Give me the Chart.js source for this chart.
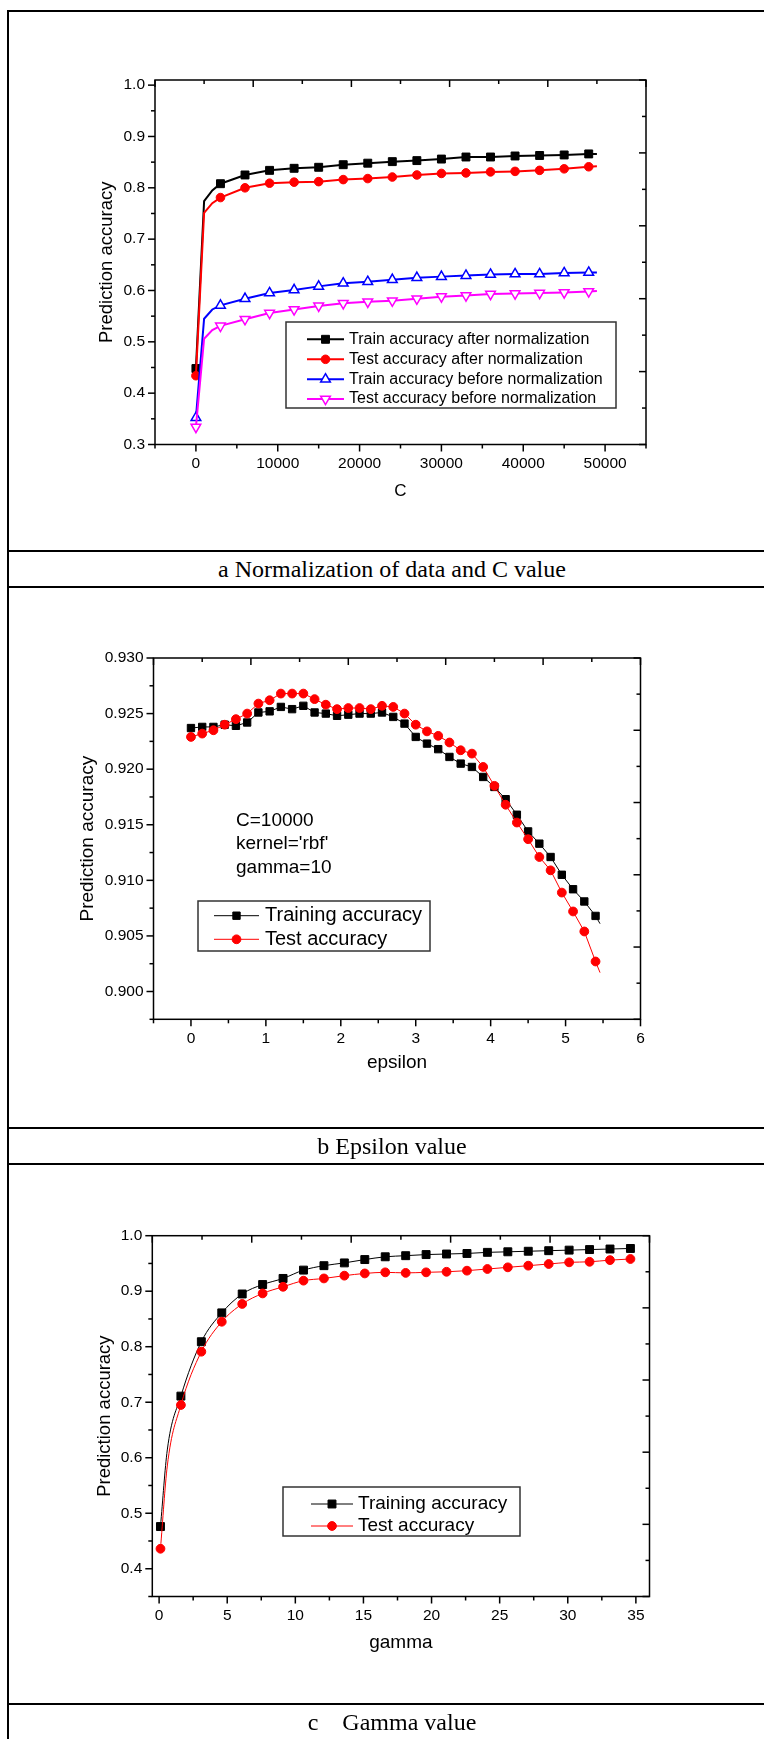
<!DOCTYPE html>
<html>
<head>
<meta charset="utf-8">
<title>SVR parameter selection</title>
<script src="https://cdn.jsdelivr.net/npm/chart.js@4.4.1/dist/chart.umd.min.js"></script>
<style>
  html, body { margin: 0; padding: 0; background: #fff; }
  body { position: relative; width: 764px; height: 1739px; overflow: hidden; }
  .rule { position: absolute; left: 7px; width: 800px; height: 2px; background: #000; }
  .side { position: absolute; left: 7px; top: 10px; width: 2px; height: 1800px; background: #000; }
  .caption { position: absolute; left: 8px; width: 768px; height: 36px; line-height: 36px; text-align: center;
             font-family: "Liberation Serif", "Times New Roman", serif; font-size: 24px; white-space: pre; color: #000; }
  canvas { position: absolute; left: 0; }
</style>
</head>
<body>
<div class="side"></div>
<div class="rule" style="top:10px"></div>
<canvas id="chartC" width="764" height="550" style="top:0"></canvas>
<div class="rule" style="top:550px"></div>
<div class="caption" style="top:551px">a Normalization of data and C value</div>
<div class="rule" style="top:586px"></div>
<canvas id="chartEps" width="764" height="540" style="top:588px"></canvas>
<div class="rule" style="top:1127px"></div>
<div class="caption" style="top:1128px">b Epsilon value</div>
<div class="rule" style="top:1163px"></div>
<canvas id="chartGamma" width="764" height="539" style="top:1165px"></canvas>
<div class="rule" style="top:1703px"></div>
<div class="caption" style="top:1704px">c    Gamma value</div>

<script>
const FONT = '"Liberation Sans", Arial, Helvetica, sans-serif';

// (a) Normalization of data and C value
const cValues = [0, 1000, 2000, 3000, 6000, 9000, 12000, 15000, 18000, 21000, 24000, 27000, 30000, 33000, 36000, 39000, 42000, 45000, 48000, 49000];
const trainAfterNorm = [0.448, 0.774, 0.795, 0.808, 0.825, 0.834, 0.838, 0.840, 0.845, 0.848, 0.851, 0.853, 0.856, 0.860, 0.860, 0.862, 0.863, 0.864, 0.866, 0.866];
const testAfterNorm = [0.434, 0.751, 0.770, 0.781, 0.800, 0.809, 0.811, 0.812, 0.816, 0.818, 0.821, 0.825, 0.828, 0.829, 0.831, 0.832, 0.834, 0.837, 0.841, 0.842];
const trainBeforeNorm = [0.352, 0.545, 0.563, 0.571, 0.584, 0.595, 0.601, 0.608, 0.614, 0.617, 0.621, 0.625, 0.627, 0.629, 0.631, 0.632, 0.632, 0.634, 0.635, 0.635];
const testBeforeNorm = [0.334, 0.506, 0.523, 0.531, 0.544, 0.556, 0.563, 0.570, 0.575, 0.578, 0.580, 0.584, 0.588, 0.590, 0.593, 0.594, 0.595, 0.596, 0.598, 0.599];
const cTicks = [0, 10000, 20000, 30000, 40000, 50000];
const accTicksA = [0.3, 0.4, 0.5, 0.6, 0.7, 0.8, 0.9, 1.0];

// (b) Epsilon value
const epsilonValues = [0, 0.15, 0.30, 0.45, 0.60, 0.75, 0.90, 1.05, 1.20, 1.35, 1.50, 1.65, 1.80, 1.95, 2.10, 2.25, 2.40, 2.55, 2.70,
    2.85, 3.00, 3.15, 3.30, 3.45, 3.60, 3.75, 3.90, 4.05, 4.20, 4.35, 4.50, 4.65, 4.80, 4.95, 5.10, 5.25, 5.40, 5.46];
const trainEps = [0.9237, 0.9238, 0.9238, 0.9240, 0.9239, 0.9242, 0.9251, 0.9252, 0.9256, 0.9254,
    0.9257, 0.9251, 0.9250, 0.9248, 0.9249, 0.9250, 0.9250, 0.9251, 0.9247, 0.9241,
    0.9229, 0.9223, 0.9218, 0.9211, 0.9205, 0.9202, 0.9193, 0.9184, 0.9173, 0.9159,
    0.9144, 0.9133, 0.9121, 0.9105, 0.9092, 0.9081, 0.9068, 0.9061];
const testEps = [0.9229, 0.9232, 0.9235, 0.9240, 0.9245, 0.9250, 0.9259, 0.9262, 0.9268, 0.9268,
    0.9268, 0.9263, 0.9258, 0.9254, 0.9255, 0.9255, 0.9254, 0.9257, 0.9256, 0.9250,
    0.9240, 0.9234, 0.9230, 0.9224, 0.9217, 0.9214, 0.9202, 0.9185, 0.9168, 0.9152,
    0.9137, 0.9121, 0.9109, 0.9089, 0.9072, 0.9054, 0.9027, 0.9017];
const epsTicks = [0, 1, 2, 3, 4, 5, 6];
const accTicksB = [0.900, 0.905, 0.910, 0.915, 0.920, 0.925, 0.930];

// (c) Gamma value
const gammaValues = [0.1, 0.6, 1.6, 3.1, 4.6, 6.1, 7.6, 9.1, 10.6, 12.1, 13.6, 15.1, 16.6, 18.1, 19.6, 21.1, 22.6, 24.1, 25.6, 27.1, 28.6, 30.1, 31.6, 33.1, 34.6];
const trainGamma = [0.476, 0.614, 0.711, 0.809, 0.861, 0.895, 0.912, 0.923, 0.938, 0.946, 0.951, 0.957, 0.962, 0.964, 0.966, 0.967, 0.968, 0.970, 0.971, 0.972, 0.973, 0.974, 0.975, 0.976, 0.977];
const testGamma = [0.436, 0.585, 0.695, 0.791, 0.845, 0.877, 0.896, 0.908, 0.919, 0.923, 0.928, 0.932, 0.934, 0.933, 0.934, 0.935, 0.937, 0.940, 0.943, 0.946, 0.949, 0.952, 0.953, 0.956, 0.958];
const gammaTicks = [0, 5, 10, 15, 20, 25, 30, 35];
const accTicksC = [0.4, 0.5, 0.6, 0.7, 0.8, 0.9, 1.0];

// Origin-style tick marks: major every step, minor halfway
function tickMarks(ctx, a, scale, step, side) {
    const half = step / 2;
    const first = Math.ceil(scale.min / half - 1e-6);
    const last = Math.floor(scale.max / half + 1e-6);
    for (let k = first; k <= last; k++) {
        const len = k % 2 === 0 ? 7 : 4;
        const p = scale.getPixelForValue(k * half);
        ctx.beginPath();
        if (side === 'bottom') { ctx.moveTo(p, a.bottom); ctx.lineTo(p, a.bottom + len); }
        else if (side === 'left') { ctx.moveTo(a.left, p); ctx.lineTo(a.left - len, p); }
        else if (side === 'top') { ctx.moveTo(p, a.top); ctx.lineTo(p, a.top + len); }
        else { ctx.moveTo(a.right, p); ctx.lineTo(a.right - len, p); }
        ctx.stroke();
    }
}

// Frame, ticks, boxed legend and text notes
const originPlugin = {
    id: 'origin',
    afterDraw(chart, args, opts) {
        const ctx = chart.ctx;
        const a = chart.chartArea;
        const s = chart.scales;
        ctx.save();
        ctx.strokeStyle = '#000';
        ctx.lineWidth = opts.lineWidth;
        ctx.strokeRect(a.left, a.top, a.right - a.left, a.bottom - a.top);
        tickMarks(ctx, a, s.x, opts.steps.x, 'bottom');
        tickMarks(ctx, a, s.y, opts.steps.y, 'left');
        tickMarks(ctx, a, s.x2, 2, 'top');
        tickMarks(ctx, a, s.y2, 2, 'right');

        const lg = opts.legend;
        ctx.lineWidth = 1.5;
        ctx.strokeStyle = '#333';
        ctx.strokeRect(lg.box[0], lg.box[1], lg.box[2], lg.box[3]);
        ctx.font = lg.size + 'px ' + FONT;
        ctx.textBaseline = 'middle';
        ctx.textAlign = 'left';
        chart.data.datasets.forEach((ds, i) => {
            const y = lg.rows[i];
            ctx.strokeStyle = ds.borderColor;
            ctx.lineWidth = ds.borderWidth;
            ctx.beginPath();
            ctx.moveTo(lg.line[0], y);
            ctx.lineTo(lg.line[1], y);
            ctx.stroke();
            ctx.fillStyle = ds.pointBackgroundColor;
            ctx.strokeStyle = ds.pointBorderColor;
            ctx.lineWidth = ds.pointBorderWidth;
            Chart.helpers.drawPoint(ctx, {
                pointStyle: ds.pointStyle,
                rotation: ds.pointRotation,
                radius: ds.markerSize,
                borderWidth: ds.pointBorderWidth
            }, (lg.line[0] + lg.line[1]) / 2, y);
            ctx.fillStyle = '#000';
            ctx.fillText(ds.label, lg.textX, y);
        });

        if (opts.notes) {
            const n = opts.notes;
            ctx.font = n.size + 'px ' + FONT;
            ctx.fillStyle = '#000';
            n.lines.forEach((t, i) => ctx.fillText(t, n.x, n.rows[i]));
        }
        ctx.restore();
    }
};

function series(label, xs, ys, hasMarker, look) {
    return {
        label: label,
        data: xs.map((x, i) => ({x: x, y: ys[i]})),
        xAxisID: 'x',
        yAxisID: 'y',
        borderColor: look.color,
        borderWidth: look.lineWidth,
        pointStyle: look.marker,
        pointRotation: look.rotation || 0,
        markerSize: look.size,
        pointRadius: ctx => (ctx.raw && !hasMarker(ctx.raw.x)) ? 0 : look.size,
        pointBackgroundColor: look.fill,
        pointBorderColor: look.color,
        pointBorderWidth: look.markerBorder,
        cubicInterpolationMode: look.smooth ? 'monotone' : 'default',
        order: look.order
    };
}

function makeChart(id, setup) {
    return new Chart(document.getElementById(id), {
        type: 'line',
        data: {datasets: setup.datasets},
        options: {
            responsive: false,
            animation: false,
            devicePixelRatio: 1,
            events: [],
            layout: {padding: setup.padding},
            elements: {line: {tension: 0}},
            scales: {
                x: {
                    type: 'linear',
                    position: 'bottom',
                    min: setup.xRange[0],
                    max: setup.xRange[1],
                    afterBuildTicks: sc => { sc.ticks = setup.xTicks.map(v => ({value: v})); },
                    afterFit: sc => { sc.height = setup.xHeight; },
                    grid: {display: false, drawTicks: false},
                    border: {display: false},
                    ticks: {color: '#000', font: {family: FONT, size: 15.5}, padding: 10, autoSkip: false, maxRotation: 0, callback: setup.xFmt},
                    title: {display: true, text: setup.xTitle, color: '#000', font: {family: FONT, size: setup.xTitleSize}, padding: 0}
                },
                y: {
                    type: 'linear',
                    position: 'left',
                    min: setup.yRange[0],
                    max: setup.yRange[1],
                    afterBuildTicks: sc => { sc.ticks = setup.yTicks.map(v => ({value: v})); },
                    afterFit: sc => { sc.width = setup.yWidth; },
                    grid: {display: false, drawTicks: false},
                    border: {display: false},
                    ticks: {color: '#000', font: {family: FONT, size: 15.5}, padding: 10, autoSkip: false, callback: setup.yFmt},
                    title: {display: true, text: 'Prediction accuracy', color: '#000', font: {family: FONT, size: setup.yTitleSize}, padding: 0}
                },
                // mirrored top / right axes (ticks only)
                x2: {type: 'linear', position: 'top', min: 0, max: 10, display: false},
                y2: {type: 'linear', position: 'right', min: 0, max: 10, display: false}
            },
            plugins: {
                legend: {display: false},
                tooltip: {enabled: false},
                origin: setup.origin
            }
        },
        plugins: [originPlugin]
    });
}

// (a)
const markA = c => c % 3000 === 0;
makeChart('chartC', {
    datasets: [
        series('Train accuracy after normalization', cValues, trainAfterNorm, markA,
            {color: '#000000', lineWidth: 2, marker: 'rect', size: 5.6, fill: '#000000', markerBorder: 1, order: 3}),
        series('Test accuracy after normalization', cValues, testAfterNorm, markA,
            {color: '#ff0000', lineWidth: 2, marker: 'circle', size: 4.3, fill: '#ff0000', markerBorder: 1, order: 2}),
        series('Train accuracy before normalization', cValues, trainBeforeNorm, markA,
            {color: '#0000ff', lineWidth: 2, marker: 'triangle', size: 5.6, fill: '#ffffff', markerBorder: 1.5, order: 1}),
        series('Test accuracy before normalization', cValues, testBeforeNorm, markA,
            {color: '#ff00ff', lineWidth: 2, marker: 'triangle', rotation: 180, size: 5.6, fill: '#ffffff', markerBorder: 1.5, order: 0})
    ],
    padding: {left: 96, top: 80, right: 118, bottom: 48.5},
    xRange: [-5000, 55000], yRange: [0.3, 1.01],
    xTicks: cTicks, yTicks: accTicksA,
    xFmt: v => String(v), yFmt: v => v.toFixed(1),
    xTitle: 'C', xTitleSize: 17, yTitleSize: 18.5,
    xHeight: 57, yWidth: 59,
    origin: {
        lineWidth: 1.5,
        steps: {x: 10000, y: 0.1},
        legend: {box: [286, 322, 330, 86], rows: [339.3, 359.3, 379.3, 399], line: [307, 344], textX: 349, size: 16}
    }
});

// (b)
const markB = e => e <= 5.4 + 1e-9;
makeChart('chartEps', {
    datasets: [
        series('Training accuracy', epsilonValues, trainEps, markB,
            {color: '#000000', lineWidth: 1, marker: 'rect', size: 5.2, fill: '#000000', markerBorder: 1, order: 1}),
        series('Test accuracy', epsilonValues, testEps, markB,
            {color: '#ff0000', lineWidth: 1, marker: 'circle', size: 4.4, fill: '#ff0000', markerBorder: 1, order: 0})
    ],
    padding: {left: 76.5, top: 70, right: 123.5, bottom: 53.7},
    xRange: [-0.5, 6], yRange: [0.8975, 0.930],
    xTicks: epsTicks, yTicks: accTicksB,
    xFmt: v => String(v), yFmt: v => v.toFixed(3),
    xTitle: 'epsilon', xTitleSize: 19, yTitleSize: 19,
    xHeight: 55, yWidth: 77,
    origin: {
        lineWidth: 1.5,
        steps: {x: 1, y: 0.005},
        legend: {box: [198, 313, 232, 50], rows: [327.7, 351.3], line: [214, 259], textX: 265, size: 20},
        notes: {x: 236, rows: [232.7, 255.3, 279.3], size: 19, lines: ['C=10000', "kernel='rbf'", 'gamma=10']}
    }
});

// (c)
const markC = g => Math.abs((g - 0.1) / 1.5 - Math.round((g - 0.1) / 1.5)) < 1e-6;
makeChart('chartGamma', {
    datasets: [
        series('Training accuracy', gammaValues, trainGamma, markC,
            {color: '#000000', lineWidth: 1, marker: 'rect', size: 5.6, fill: '#000000', markerBorder: 1, order: 1, smooth: true}),
        series('Test accuracy', gammaValues, testGamma, markC,
            {color: '#ff0000', lineWidth: 1, marker: 'circle', size: 4.4, fill: '#ff0000', markerBorder: 1, order: 0, smooth: true})
    ],
    padding: {left: 93.7, top: 70.7, right: 114.5, bottom: 50},
    xRange: [-0.5, 36], yRange: [0.35, 1.0],
    xTicks: gammaTicks, yTicks: accTicksC,
    xFmt: v => String(v), yFmt: v => v.toFixed(1),
    xTitle: 'gamma', xTitleSize: 19, yTitleSize: 18.5,
    xHeight: 57.5, yWidth: 58.6,
    origin: {
        lineWidth: 1.5,
        steps: {x: 5, y: 0.1},
        legend: {box: [283, 322, 237, 49], rows: [339, 361], line: [311, 353], textX: 358, size: 19}
    }
});
</script>
</body>
</html>
